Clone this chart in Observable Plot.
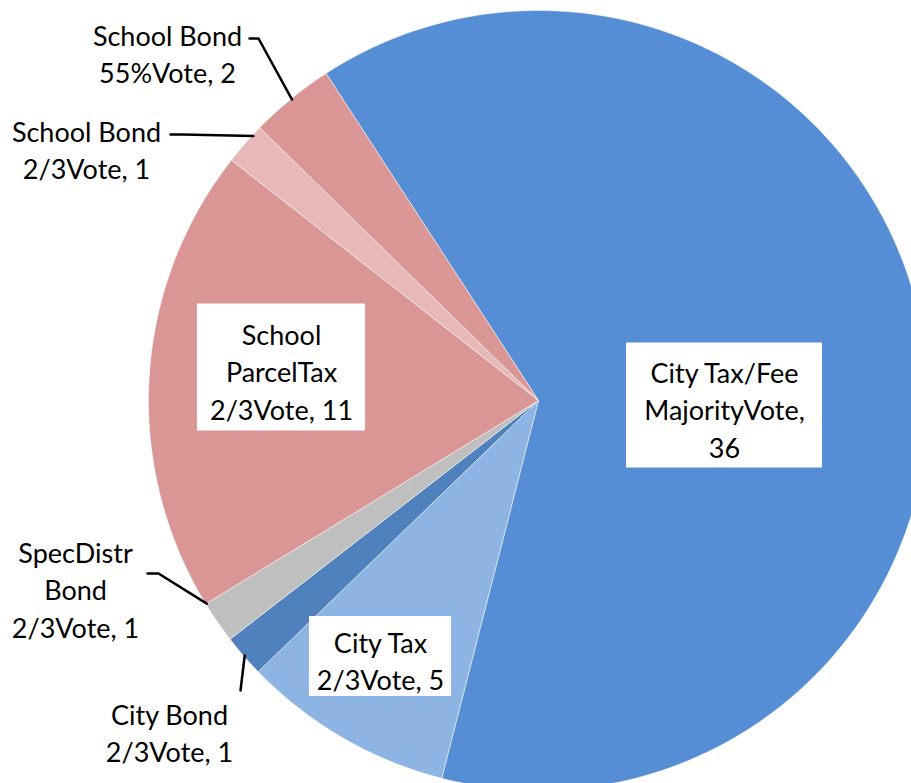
<!DOCTYPE html>
<html>
<head>
<meta charset="utf-8">
<script src="https://cdn.jsdelivr.net/npm/d3@7"></script>
<script src="https://cdn.jsdelivr.net/npm/@observablehq/plot@0.6"></script>
<style>
  html, body { margin: 0; padding: 0; background: #fff; overflow: hidden; }
  #chart svg { display: block; }
</style>
</head>
<body>
<div id="chart"></div>
<script>
// ---- data ----
const categories = [
  "City Tax/Fee MajorityVote",
  "City Tax 2/3Vote",
  "City Bond 2/3Vote",
  "SpecDistr Bond 2/3Vote",
  "School ParcelTax 2/3Vote",
  "School Bond 2/3Vote",
  "School Bond 55%Vote"
];
const values = [36, 5, 1, 1, 11, 1, 2];
const labelTexts = [
  "City Tax/Fee\nMajorityVote,\n36",
  "City Tax\n2/3Vote, 5",
  "City Bond\n2/3Vote, 1",
  "SpecDistr\nBond\n2/3Vote, 1",
  "School\nParcelTax\n2/3Vote, 11",
  "School Bond\n2/3Vote, 1",
  "School Bond\n55%Vote, 2"
];

// ---- styles / layout ----
const colors = ["#558ED5", "#8EB4E3", "#4F81BD", "#BFBFBF", "#D99694", "#E6B9B8", "#D99694"];
const W = 911, H = 783;
const cx = 538, cy = 400, R = 390;
const startDeg = -33;
const fontFamily = "Lato, 'Open Sans', sans-serif";
// label placement (pixel layout): center of text, optional white box size, optional leader
const labelLayout = [
  {x: 724, y: 408, box: [196, 125]},
  {x: 380, y: 659, box: [142, 80]},
  {x: 169, y: 731, leader: [[240, 690]], frac: 0.49},
  {x: 75,  y: 588, leader: [[147, 573], [158, 573]], frac: 0.99},
  {x: 281, y: 370, box: [168, 127]},
  {x: 86,  y: 148, leader: [[170, 134], [182, 134]], frac: 0.76},
  {x: 167, y: 52,  leader: [[249, 38], [258, 38]], frac: 0.5}
];

const start = startDeg * Math.PI / 180;
const arcs = d3.pie().sort(null).value(d => d)
  .startAngle(start).endAngle(start + 2 * Math.PI)(values);

const pt = (a, r) => ({x: cx + r * Math.sin(a), y: cy - r * Math.cos(a)});

const sliceMarks = arcs.map((a, i) => {
  const n = Math.max(4, Math.ceil((a.endAngle - a.startAngle) / (Math.PI / 180)));
  const pts = [{x: cx, y: cy}];
  for (let k = 0; k <= n; k++) {
    pts.push(pt(a.startAngle + (a.endAngle - a.startAngle) * k / n, R));
  }
  pts.push({x: cx, y: cy});
  return Plot.line(pts, {x: "x", y: "y", fill: colors[i], stroke: "#ffffff", strokeWidth: 0.8, strokeOpacity: 0.6, curve: "linear", clip: true});
});

const boxes = [];
const labels = [];
const leaders = [];
arcs.forEach((a, i) => {
  const L = labelLayout[i];
  labels.push({x: L.x, y: L.y, text: labelTexts[i], name: categories[i]});
  if (L.box) {
    boxes.push({x1: L.x - L.box[0] / 2, x2: L.x + L.box[0] / 2, y1: L.y - L.box[1] / 2 - 3, y2: L.y + L.box[1] / 2 - 3});
  }
  if (L.leader) {
    const ang = a.startAngle + (a.endAngle - a.startAngle) * L.frac;
    const end = pt(ang, R - 1);
    const pts = L.leader.map(p => ({x: p[0], y: p[1], id: i}));
    pts.push({x: end.x, y: end.y, id: i});
    leaders.push(...pts);
  }
});

const chart = Plot.plot({
  width: W,
  height: H,
  margin: 0,
  x: {domain: [0, W], range: [0, W], axis: null},
  y: {domain: [0, H], range: [0, H], axis: null},
  style: {background: "#fff"},
  marks: [
    ...sliceMarks,
    Plot.rect(boxes, {x1: "x1", x2: "x2", y1: "y1", y2: "y2", fill: "#ffffff"}),
    Plot.line(leaders, {x: "x", y: "y", z: "id", stroke: "#000", strokeWidth: 2.5, curve: "linear"}),
    Plot.text(labels, {x: "x", y: "y", text: "text", fontSize: 27, lineHeight: 1.38, fontFamily, fill: "#000", title: "name"})
  ]
});
document.getElementById("chart").appendChild(chart);
</script>
</body>
</html>
